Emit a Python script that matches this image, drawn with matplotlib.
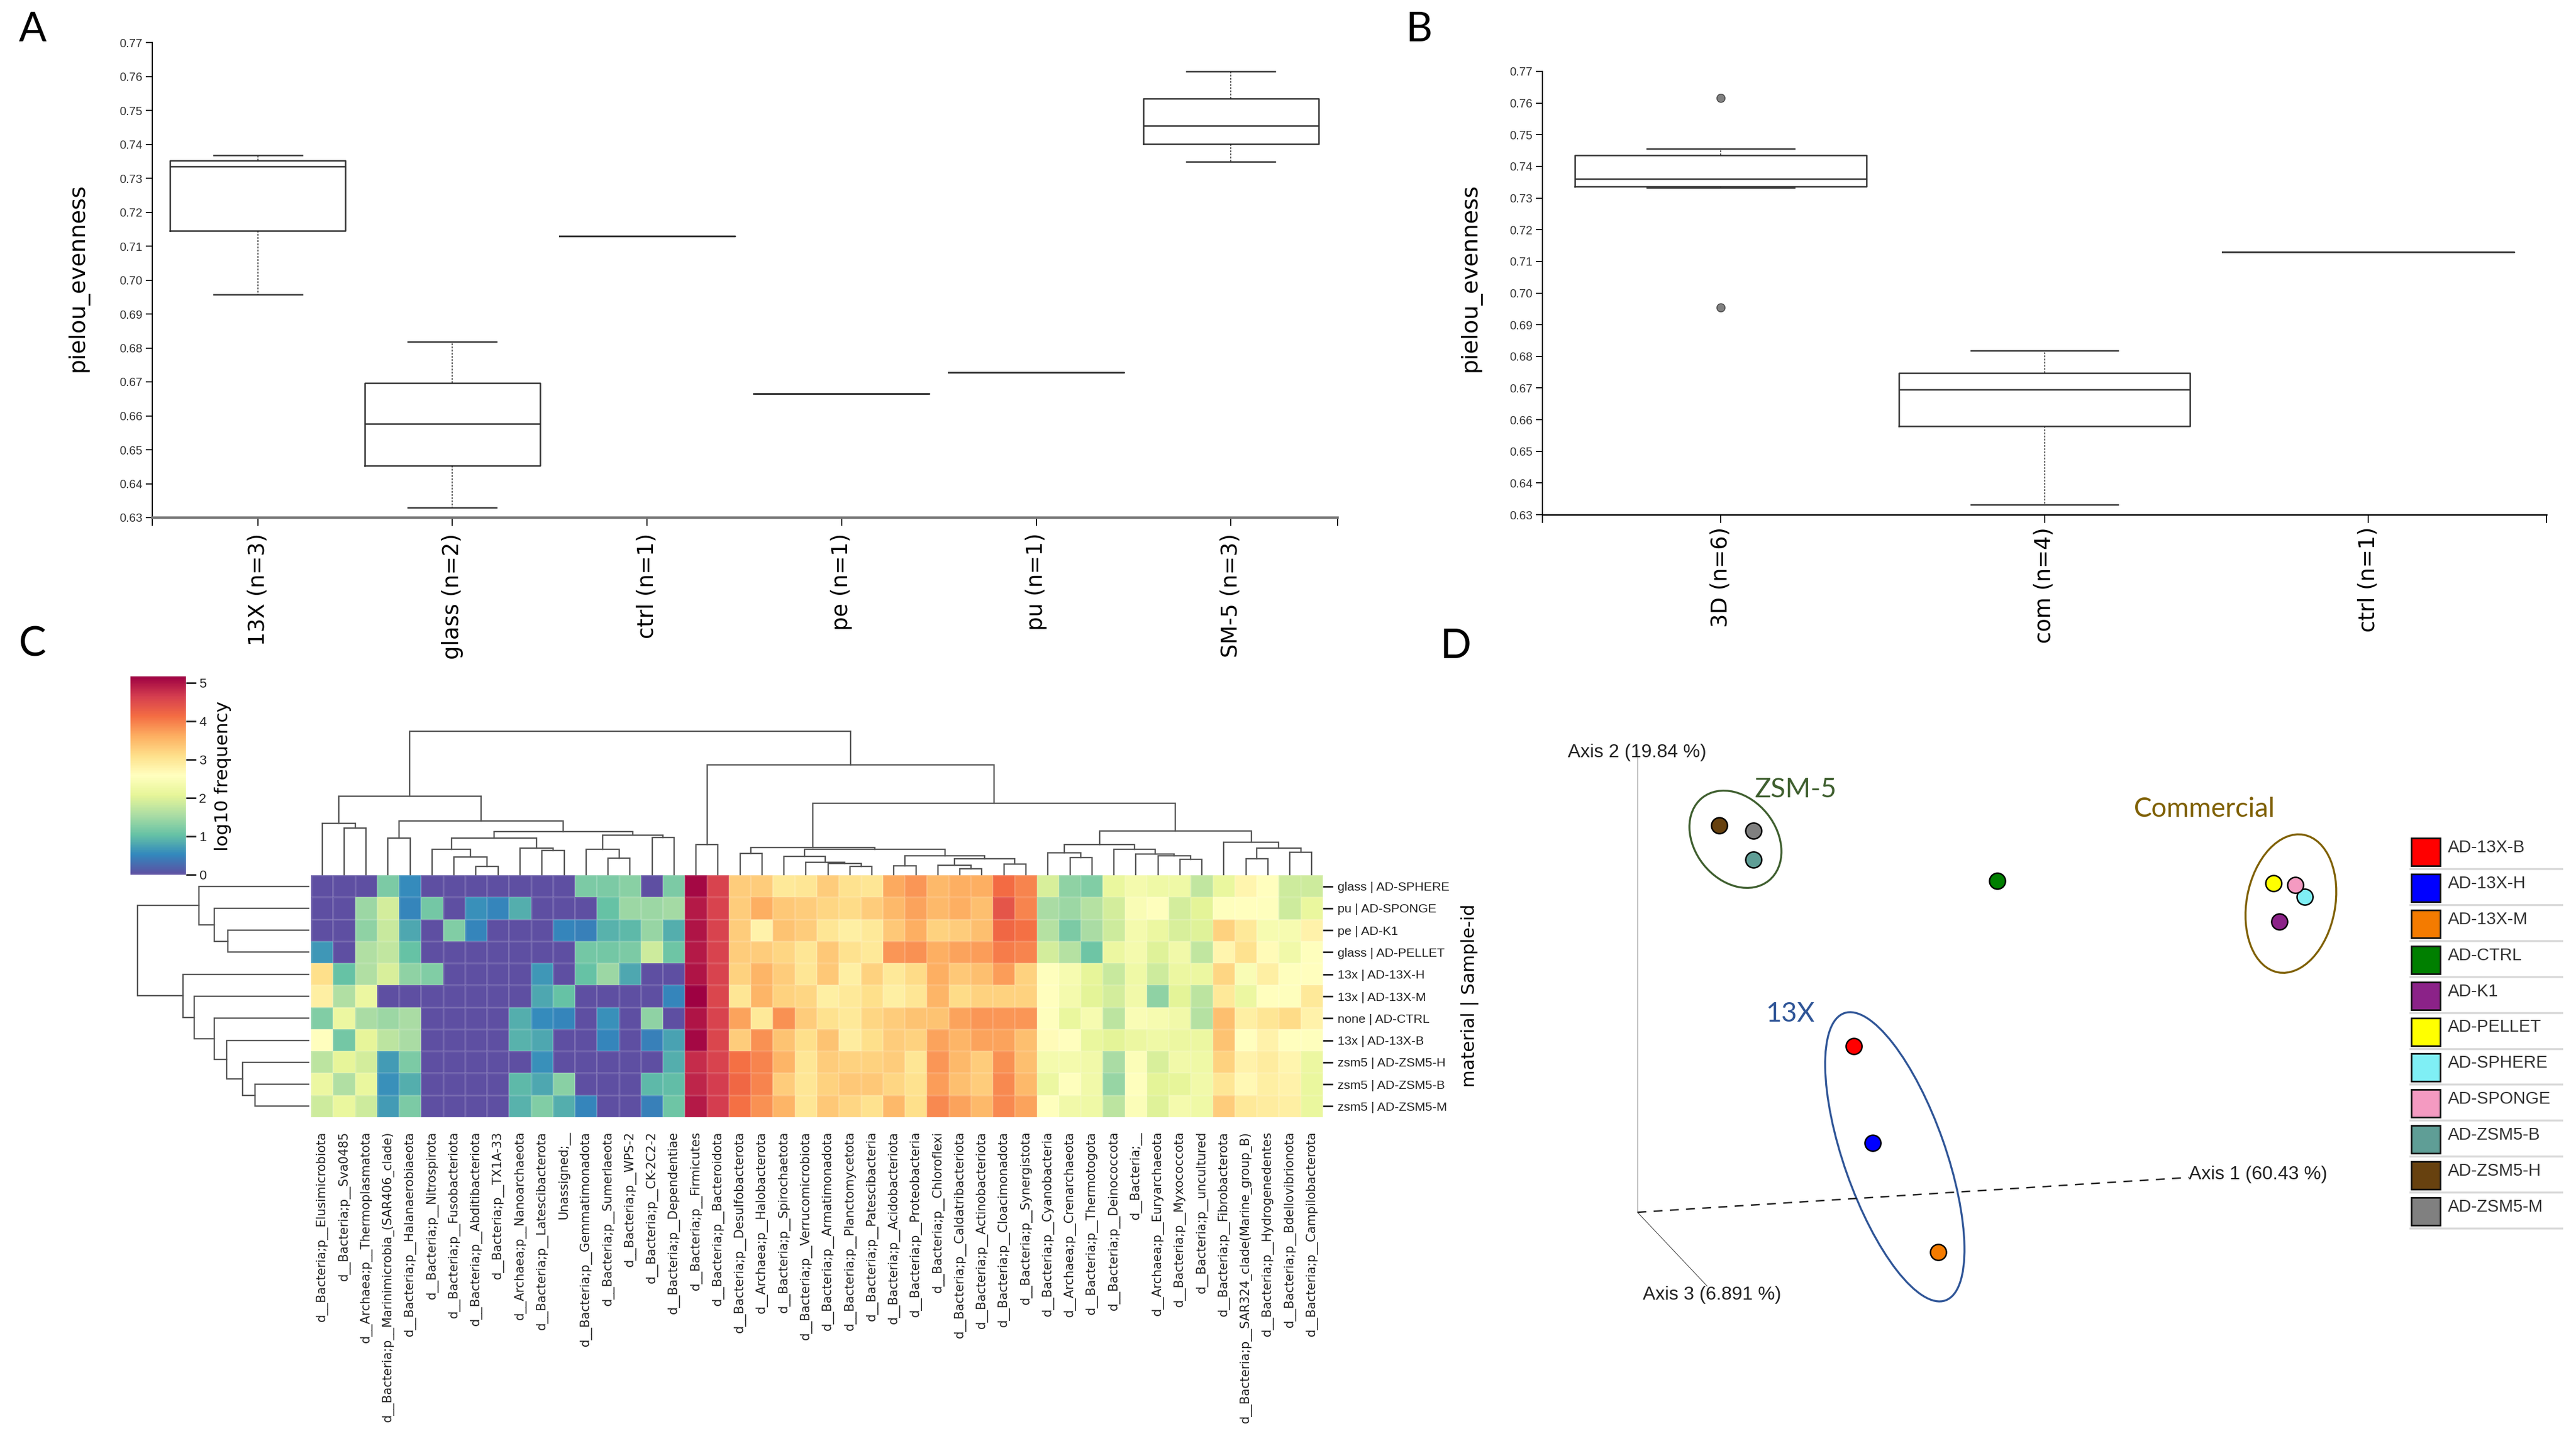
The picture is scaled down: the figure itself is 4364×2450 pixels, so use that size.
import matplotlib
matplotlib.use("Agg")
import matplotlib.pyplot as plt
import numpy as np
from matplotlib.patches import Ellipse, Rectangle

W, H = 4364, 2450
SMALL_FONT = "Liberation Sans"

# panel A / B boxplots: (whislo, q1, med, q3, whishi, fliers)
labels_a = ["13X (n=3)", "glass (n=2)", "ctrl (n=1)", "pe (n=1)", "pu (n=1)", "SM-5 (n=3)"]
box_13x = (0.6958, 0.7146, 0.7335, 0.7353, 0.7368, [])
box_glass = (0.6329, 0.6453, 0.6576, 0.6697, 0.6818, [])
box_ctrl = (0.7130, 0.7130, 0.7130, 0.7130, 0.7130, [])
box_pe = (0.6665, 0.6665, 0.6665, 0.6665, 0.6665, [])
box_pu = (0.6727, 0.6727, 0.6727, 0.6727, 0.6727, [])
box_sm5 = (0.7348, 0.7401, 0.7455, 0.7534, 0.7615, [])

labels_b = ["3D (n=6)", "com (n=4)", "ctrl (n=1)"]
box_3d = (0.7333, 0.7337, 0.7360, 0.7436, 0.7455, [0.7616, 0.6955])
box_com = (0.6331, 0.6580, 0.6696, 0.6747, 0.6818, [])
y_ticks = [0.63, 0.64, 0.65, 0.66, 0.67, 0.68, 0.69, 0.70, 0.71, 0.72, 0.73, 0.74, 0.75, 0.76, 0.77]

# panel C heatmap
samples = ["glass | AD-SPHERE", "pu | AD-SPONGE", "pe | AD-K1", "glass | AD-PELLET", "13x | AD-13X-H",
           "13x | AD-13X-M", "none | AD-CTRL", "13x | AD-13X-B", "zsm5 | AD-ZSM5-H", "zsm5 | AD-ZSM5-B",
           "zsm5 | AD-ZSM5-M"]
taxa = ["d__Bacteria;p__Elusimicrobiota", "d__Bacteria;p__Sva0485", "d__Archaea;p__Thermoplasmatota",
        "d__Bacteria;p__Marinimicrobia_(SAR406_clade)", "d__Bacteria;p__Halanaerobiaeota",
        "d__Bacteria;p__Nitrospirota", "d__Bacteria;p__Fusobacteriota", "d__Bacteria;p__Abditibacteriota",
        "d__Bacteria;p__TX1A-33", "d__Archaea;p__Nanoarchaeota", "d__Bacteria;p__Latescibacterota",
        "Unassigned;__", "d__Bacteria;p__Gemmatimonadota", "d__Bacteria;p__Sumerlaeota", "d__Bacteria;p__WPS-2",
        "d__Bacteria;p__CK-2C2-2", "d__Bacteria;p__Dependentiae", "d__Bacteria;p__Firmicutes",
        "d__Bacteria;p__Bacteroidota", "d__Bacteria;p__Desulfobacterota", "d__Archaea;p__Halobacterota",
        "d__Bacteria;p__Spirochaetota", "d__Bacteria;p__Verrucomicrobiota", "d__Bacteria;p__Armatimonadota",
        "d__Bacteria;p__Planctomycetota", "d__Bacteria;p__Patescibacteria", "d__Bacteria;p__Acidobacteriota",
        "d__Bacteria;p__Proteobacteria", "d__Bacteria;p__Chloroflexi", "d__Bacteria;p__Caldatribacteriota",
        "d__Bacteria;p__Actinobacteriota", "d__Bacteria;p__Cloacimonadota", "d__Bacteria;p__Synergistota",
        "d__Bacteria;p__Cyanobacteria", "d__Archaea;p__Crenarchaeota", "d__Bacteria;p__Thermotogota",
        "d__Bacteria;p__Deinococcota", "d__Bacteria;__", "d__Archaea;p__Euryarchaeota", "d__Bacteria;p__Myxococcota",
        "d__Bacteria;p__uncultured", "d__Bacteria;p__Fibrobacterota", "d__Bacteria;p__SAR324_clade(Marine_group_B)",
        "d__Bacteria;p__Hydrogenedentes", "d__Bacteria;p__Bdellovibrionota", "d__Bacteria;p__Campilobacterota"]

row_sphere = [0, 0, 0, 1.2, .55, 0, 0, 0, 0, 0, 0, 0, 1.2, 1.2, 1.3, 0, 1.2, 5.1, 4.6, 3.3, 3.3, 2.95,
              3.0, 3.3, 3.05, 3.0, 3.65, 3.8, 3.5, 3.6, 3.6, 4.15, 3.95, 1.95, 1.35, 1.25, 2.15, 2.35, 2.25, 2.25, 1.75, 2.15, 2.75, 2.6, 1.85, 1.85]
row_sponge = [0, 0, 1.45, 1.9, .5, 1.15, 0, .6, .5, .85, 0, 0, 0, 1.05, 1.45, 1.45, 1.5, 4.95, 4.6, 3.3, 3.6, 3.35,
              3.3, 3.2, 3.15, 3.3, 3.5, 3.7, 3.5, 3.6, 3.45, 4.4, 3.95, 1.55, 1.45, 1.65, 1.9, 2.45, 2.55, 1.9, 2.05, 2.55, 2.6, 2.55, 1.85, 2.15]
row_k1 = [0, 0, 1.35, 1.8, .8, 0, 1.25, .5, 0, 0, 0, .5, .45, .9, .95, 1.4, .85, 5.0, 4.6, 3.3, 2.8, 3.4,
          3.3, 3.0, 2.85, 2.95, 3.35, 3.6, 3.25, 3.3, 3.45, 4.2, 4.1, 1.65, 1.2, 1.55, 1.85, 2.35, 2.2, 1.95, 2.0, 3.25, 2.95, 2.4, 2.4, 2.8]
row_pellet = [.65, 0, 1.6, 1.75, 1.05, 0, 0, 0, 0, 0, 0, 0, 1.15, 1.15, 1.2, 1.85, 1.1, 4.95, 4.6, 3.3, 3.3, 3.2,
              3.0, 3.35, 3.05, 2.95, 3.8, 3.85, 3.6, 3.7, 3.75, 4.0, 3.95, 1.9, 1.65, 1.1, 2.2, 2.35, 2.0, 2.3, 1.75, 2.75, 3.05, 2.65, 2.3, 2.55]
row_13x_h = [3.1, 1.05, 1.6, 1.95, 1.35, 1.25, 0, 0, 0, 0, .65, 0, 1.05, 1.45, .8, 0, 0, 5.0, 4.6, 3.25, 3.55, 3.3,
             3.0, 3.35, 2.85, 3.25, 2.95, 3.15, 3.6, 3.35, 3.45, 3.75, 3.25, 2.55, 2.4, 2.1, 1.8, 2.25, 1.85, 2.2, 2.2, 3.2, 2.45, 2.85, 2.55, 2.6]
row_13x_m = [2.85, 1.6, 2.2, 0, 0, 0, 0, 0, 0, 0, .8, 1.05, 0, 0, 0, 0, .5, 5.15, 4.55, 3.0, 3.55, 3.25,
             3.2, 2.85, 2.95, 3.1, 2.85, 3.0, 3.55, 3.15, 3.25, 3.25, 3.25, 2.6, 2.35, 2.05, 1.9, 2.3, 1.35, 2.05, 1.7, 2.95, 2.2, 2.6, 2.55, 2.95]
row_ctrl = [1.25, 2.2, 1.55, 1.45, 1.55, 0, 0, 0, 0, .85, .55, .5, 0, .6, 0, 1.35, 0, 5.0, 4.6, 3.7, 2.95, 3.85,
            3.3, 3.05, 2.95, 3.2, 3.3, 3.4, 3.4, 3.7, 3.8, 3.8, 3.8, 2.55, 2.15, 2.4, 1.7, 2.45, 2.4, 2.3, 1.65, 3.45, 2.85, 3.0, 3.15, 2.8]
row_13x_b = [2.6, 1.15, 2.1, 1.7, 1.55, 0, 0, 0, 0, .9, .8, 0, 0, .5, 0, .45, .75, 5.1, 4.55, 3.3, 3.85, 3.4,
             3.1, 3.4, 2.9, 3.1, 3.3, 3.25, 3.7, 3.55, 3.7, 3.7, 3.45, 2.65, 2.6, 2.15, 2.05, 2.2, 2.25, 2.2, 2.2, 3.4, 2.6, 2.8, 2.6, 2.55]
row_zsm5_h = [1.7, 2.1, 1.9, .7, 1.2, 0, 0, 0, 0, 0, .6, 0, 0, 0, 0, 0, .85, 4.8, 4.6, 4.1, 3.95, 3.55,
              3.0, 3.3, 3.25, 3.25, 3.3, 3.0, 3.8, 3.5, 3.3, 3.85, 3.45, 2.35, 2.35, 2.3, 1.55, 2.5, 1.95, 2.3, 2.25, 3.25, 2.8, 2.9, 2.75, 2.2]
row_zsm5_b = [2.2, 1.6, 2.15, .6, .85, 0, 0, 0, 0, .95, .8, 1.3, 0, 0, 0, .95, 1.0, 4.85, 4.65, 4.2, 3.95, 3.3,
              3.0, 3.25, 3.35, 3.35, 3.2, 3.05, 3.75, 3.45, 3.3, 3.9, 3.5, 2.2, 2.55, 2.3, 1.4, 2.55, 2.05, 2.1, 2.3, 3.0, 2.7, 2.85, 2.8, 2.15]
row_zsm5_m = [1.85, 2.15, 1.85, .7, 1.2, 0, 0, 0, 0, .9, 1.25, .85, .5, 0, 0, .45, 1.1, 4.95, 4.65, 4.1, 3.85, 3.55,
              3.0, 3.35, 3.2, 3.05, 3.5, 3.1, 3.9, 3.7, 3.5, 3.9, 3.7, 2.55, 2.3, 2.25, 1.7, 2.5, 2.0, 2.35, 2.25, 3.3, 2.95, 2.9, 2.85, 2.15]

# dendrograms: (distance, left, right), ints are leaves
c_0_2 = (88, 0, (80, 1, 2))
c_5_8 = (44, 5, (31, 6, (15, 7, 8)))
c_9_11 = (46, 9, (42, 10, 11))
c_12_16 = (68, (44, 12, (29, 13, 14)), (64, 15, 16))
c_5_16 = (74, (63, c_5_8, c_9_11), c_12_16)
c_left = (134, c_0_2, (92, (63, 3, 4), c_5_16))
c_21_25 = (32, 21, (22, 22, (20, 23, (15, 24, 25))))
c_26_32 = (33, (16, 26, 27), (28, (17, 28, (11, 29, 30)), (19, 31, 32)))
c_19_32 = (47, (37, 19, 20), (44, c_21_25, c_26_32))
c_33_40 = (52, (38, 33, (30, 34, 35)), (44, 36, (36, 37, (33, 38, (27, 39, 40)))))
c_41_45 = (56, 41, (46, (28, 42, 43), (39, 44, 45)))
c_right = (187, (52, 17, 18), (122, c_19_32, (75, c_33_40, c_41_45)))
col_tree = (244, c_left, c_right)
r_top = (187, 0, (161, 1, (138, 2, 3)))
r_bottom = (214, 4, (195, 5, (161, 6, (140, 7, (113, 8, (92, 9, 10))))))
row_tree = (291, r_top, r_bottom)

# panel D
pcoa_names = ["AD-13X-B", "AD-13X-H", "AD-13X-M", "AD-CTRL", "AD-K1", "AD-PELLET", "AD-SPHERE", "AD-SPONGE",
              "AD-ZSM5-B", "AD-ZSM5-H", "AD-ZSM5-M"]
pcoa_colors = ["#ff0000", "#0000ff", "#f47b00", "#007f00", "#8b2288", "#ffff00", "#7feff5", "#f49ac1",
               "#5f9e96", "#67410f", "#808080"]
pcoa_x = [0.367, 0.399, 0.510, 0.610, 1.088, 1.078, 1.131, 1.115, 0.197, 0.139, 0.197]
pcoa_y = [0.281, 0.117, -0.068, 0.561, 0.492, 0.557, 0.534, 0.554, 0.597, 0.655, 0.646]


def px_axes(fig, left, top, right, bottom):
    return fig.add_axes([left / W, 1 - bottom / H, (right - left) / W, (bottom - top) / H])


def fig_text(fig, x, y, s, **kw):
    fig.text(x / W, 1 - y / H, s, **kw)


def draw_boxes(ax, boxes, labels, xlim):
    stats = []
    for b, name in zip(boxes, labels):
        stats.append(dict(whislo=b[0], q1=b[1], med=b[2], q3=b[3], whishi=b[4], fliers=b[5], label=name))
    ax.bxp(stats, positions=np.arange(len(boxes)), widths=0.9, capwidths=0.455,
           boxprops=dict(color="#333333", lw=1.8), medianprops=dict(color="#333333", lw=1.8),
           whiskerprops=dict(color="#222222", lw=1.1, ls=(0, (2, 1.5))), capprops=dict(color="#333333", lw=1.8),
           flierprops=dict(marker="o", ms=10, mfc="#808080", mec="#444444", mew=1))
    ax.set_xlim(*xlim)
    ax.set_ylim(0.63, 0.77)
    ax.set_yticks(y_ticks)
    ax.set_yticklabels([f"{t:.2f}" for t in y_ticks], family=SMALL_FONT, fontsize=14.5, color="#333333")
    ax.tick_params(axis="y", length=8, width=1.3, pad=4)
    ax.tick_params(axis="x", length=10, width=1.3, labelsize=26.6, labelrotation=90)
    ax.set_xticks(list(xlim), minor=True)
    ax.tick_params(axis="x", which="minor", length=10, width=1.3)
    ax.spines[["top", "right"]].set_visible(False)
    ax.spines["left"].set_linewidth(1.4)
    ax.spines["bottom"].set_linewidth(1.8)


def draw_tree(ax, node, horizontal=False):
    if isinstance(node, int):
        return node + 0.5, 0
    dist, left, right = node
    pos_l, dist_l = draw_tree(ax, left, horizontal)
    pos_r, dist_r = draw_tree(ax, right, horizontal)
    xs = [pos_l, pos_l, pos_r, pos_r]
    ys = [dist_l, dist, dist, dist_r]
    if horizontal:
        xs, ys = ys, xs
    ax.plot(xs, ys, color="#555555", lw=1.7, solid_joinstyle="miter")
    return (pos_l + pos_r) / 2, dist


fig = plt.figure(figsize=(W / 100, H / 100), dpi=100)

# overlay in pixel space for the legend furniture
ax_px = fig.add_axes([0, 0, 1, 1])
ax_px.set_xlim(0, W)
ax_px.set_ylim(H, 0)
ax_px.axis("off")

# A
ax_a = px_axes(fig, 258, 72, 2266, 877)
draw_boxes(ax_a, [box_13x, box_glass, box_ctrl, box_pe, box_pu, box_sm5], labels_a, (-0.542, 5.548))
ax_a.tick_params(axis="x", pad=9)
ax_a.spines["bottom"].set_color("#777777")
ax_a.spines["bottom"].set_linewidth(3)
fig_text(fig, 132, 470, "pielou_evenness", rotation=90, ha="center", va="center", fontsize=27.7)

# B
ax_b = px_axes(fig, 2613, 121, 4314, 872)
draw_boxes(ax_b, [box_3d, box_com, box_ctrl], labels_b, (-0.55, 2.55))
ax_b.tick_params(axis="x", pad=5)
fig_text(fig, 2491, 470, "pielou_evenness", rotation=90, ha="center", va="center", fontsize=27.7)

# panel letters
for letter, x, y in [("A", 32, 70), ("B", 2382, 70), ("C", 32, 1112), ("D", 2440, 1115)]:
    fig_text(fig, x, y, letter, family="Lato", fontsize=50, ha="left", va="baseline")

# C heatmap
values = np.array([row_sphere, row_sponge, row_k1, row_pellet, row_13x_h, row_13x_m, row_ctrl, row_13x_b,
                   row_zsm5_h, row_zsm5_b, row_zsm5_m])
ax_heat = px_axes(fig, 527, 1483, 2241, 1893)
mesh = ax_heat.pcolormesh(values, cmap="Spectral_r", vmin=0, vmax=5.17, edgecolors=(1, 1, 1, 0.12), linewidth=1)
ax_heat.set_ylim(len(samples), 0)
ax_heat.set_xticks(np.arange(len(taxa)) + 0.5)
ax_heat.set_xticklabels(taxa, rotation=90, fontsize=15, color="#222222")
ax_heat.set_yticks(np.arange(len(samples)) + 0.5)
ax_heat.set_yticklabels(samples, family=SMALL_FONT, fontsize=15.3, color="#222222")
ax_heat.yaxis.tick_right()
ax_heat.tick_params(axis="x", length=0, pad=17)
ax_heat.tick_params(axis="y", length=12, width=2, pad=6, color="#222222")
for spine in ax_heat.spines.values():
    spine.set_visible(False)
fig_text(fig, 2490, 1687, "material | Sample-id", rotation=90, ha="center", va="center", fontsize=22)

ax_top = px_axes(fig, 527, 1223, 2241, 1483)
draw_tree(ax_top, col_tree)
ax_top.set_xlim(0, len(taxa))
ax_top.set_ylim(0, 260)
ax_top.axis("off")

ax_side = px_axes(fig, 224, 1483, 524, 1893)
draw_tree(ax_side, row_tree, horizontal=True)
ax_side.set_xlim(300, 0)
ax_side.set_ylim(len(samples), 0)
ax_side.axis("off")

cax = px_axes(fig, 221, 1146, 315, 1482)
cbar = fig.colorbar(mesh, cax=cax)
cbar.outline.set_visible(False)
cbar.set_ticks([0, 1, 2, 3, 4, 5])
cax.set_yticklabels(["0", "1", "2", "3", "4", "5"], family=SMALL_FONT, fontsize=16, color="#222222")
cax.tick_params(length=12, width=2, pad=4, color="#222222")
fig_text(fig, 377, 1315, "log10 frequency", rotation=90, ha="center", va="center", fontsize=22.5)

# D: score units are thousandths of a pixel from the plot origin
ax_d = px_axes(fig, 2600, 1250, 4050, 2250)
ax_d.set_xlim(-0.174, 1.276)
ax_d.set_ylim(-0.196, 0.804)
ax_d.axis("off")
ax_d.plot([0, 0], [0, 0.784], color="#999999", lw=1)
ax_d.plot([0, 0.934], [0, 0.059], color="#222222", lw=1.8, ls=(0, (6, 5)))
ax_d.plot([0, 0.118], [0, -0.125], color="#333333", lw=0.7)
ax_d.text(-0.118, 0.771, "Axis 2 (19.84 %)", family="Liberation Sans", fontsize=23, color="#222222")
ax_d.text(0.934, 0.056, "Axis 1 (60.43 %)", family="Liberation Sans", fontsize=23, color="#222222")
ax_d.text(0.009, -0.148, "Axis 3 (6.891 %)", family="Liberation Sans", fontsize=23, color="#222222")

for xy, major, minor, angle, col in [((0.166, 0.632), 0.180, 0.138, 128.8, "#3f5f2f"),
                                     ((1.107, 0.523), 0.237, 0.150, 79.4, "#7f6000"),
                                     ((0.436, 0.094), 0.516, 0.172, 109.4, "#2f5597")]:
    ax_d.add_patch(Ellipse(xy, major, minor, angle=angle, fill=False, ec=col, lw=2.4))
ax_d.text(0.199, 0.703, "ZSM-5", family="Lato", fontsize=33, color="#3f5f2f")
ax_d.text(0.841, 0.670, "Commercial", family="Lato", fontsize=33, color="#7f6000")
ax_d.text(0.217, 0.323, "13X", family="Lato", fontsize=33, color="#2f5597")
ax_d.scatter(pcoa_x, pcoa_y, c=pcoa_colors, s=380, edgecolors="black", linewidths=1.8, zorder=3)

# D legend
for i, (name, col) in enumerate(zip(pcoa_names, pcoa_colors)):
    top = 1420 + i * 60.9
    ax_px.add_patch(Rectangle((4085, top), 49, 47, fc=col, ec="#111111", lw=2))
    ax_px.plot([4083, 4340], [top + 52, top + 52], color="#d9d9d9", lw=2.5)
    ax_px.text(4147, top + 16, name, family="Liberation Sans", fontsize=21, color="#333333", ha="left", va="center")

fig.savefig("out.png", dpi=100)
